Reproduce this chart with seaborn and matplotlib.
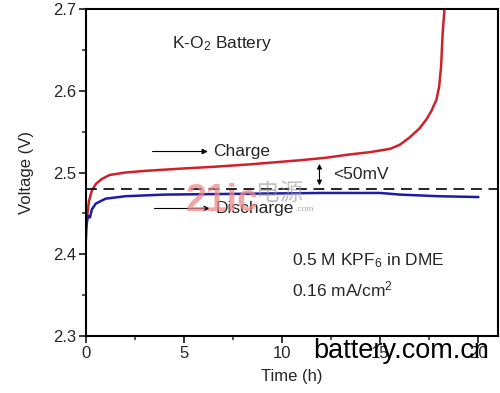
import numpy as np
import pandas as pd
import matplotlib
matplotlib.use('Agg')
import matplotlib.pyplot as plt
from matplotlib.ticker import MultipleLocator
import seaborn as sns

#%% data
charge_t = [0.0, 0.05, 0.15, 0.3, 0.5, 0.8, 1.2, 2, 3, 5, 6.5, 8.35, 10.9, 12.2,
            13.4, 14.5, 15.5, 16.0, 16.5, 17.0, 17.35, 17.6, 17.86, 18.0, 18.1,
            18.18, 18.27, 18.32]
charge_v = [2.418, 2.445, 2.465, 2.478, 2.486, 2.492, 2.497, 2.500, 2.502, 2.505,
            2.507, 2.510, 2.515, 2.518, 2.522, 2.525, 2.529, 2.534, 2.543, 2.554,
            2.565, 2.575, 2.589, 2.605, 2.630, 2.671, 2.699, 2.720]
discharge_t = [0.0, 0.1, 0.2, 0.3, 0.5, 1.0, 2, 4, 8, 12, 15, 16, 18, 20]
discharge_v = [2.432, 2.447, 2.445, 2.455, 2.462, 2.468, 2.471, 2.473, 2.474,
               2.475, 2.475, 2.473, 2.471, 2.470]
mid_v = 2.48

df = pd.concat([
    pd.DataFrame({'time': charge_t, 'voltage': charge_v, 'mode': 'Charge'}),
    pd.DataFrame({'time': discharge_t, 'voltage': discharge_v, 'mode': 'Discharge'}),
])

#%% plot
sns.set_style('ticks')
plt.rcParams['font.family'] = ['Liberation Sans', 'Noto Sans CJK SC', 'DejaVu Sans']
plt.rcParams['mathtext.fontset'] = 'custom'
plt.rcParams['mathtext.rm'] = 'Liberation Sans'
plt.rcParams['mathtext.default'] = 'regular'

fig = plt.figure(figsize=(5.0, 3.93), dpi=100)
ax = fig.add_axes([0.172, 0.145, 0.824, 0.832])

sns.lineplot(data=df, x='time', y='voltage', hue='mode', estimator=None,
             palette={'Charge': '#d0202a', 'Discharge': '#1c1ca6'},
             linewidth=1.8, legend=False, ax=ax)
ax.axhline(mid_v, color='black', linestyle=(0, (6.5, 4)), linewidth=1.2)

ax.set_xlim(0, 21)
ax.set_ylim(2.3, 2.7)
ax.xaxis.set_major_locator(MultipleLocator(5))
ax.xaxis.set_minor_locator(MultipleLocator(2.5))
ax.yaxis.set_major_locator(MultipleLocator(0.1))
ax.yaxis.set_minor_locator(MultipleLocator(0.05))
ax.tick_params(which='major', direction='out', length=5, width=1.3, labelsize=12, pad=2)
ax.tick_params(which='minor', direction='out', length=3, width=1.1)
for s in ax.spines.values():
    s.set_linewidth(1.5)
    s.set_color('black')
ax.set_xlabel('Time (h)', fontsize=12, labelpad=6)
ax.set_ylabel('Voltage (V)', fontsize=12, labelpad=14)

#%% annotations
fs = 12.5
ax.text(4.4, 2.658, 'K-O$_2$ Battery', fontsize=fs, va='center')
ax.annotate('', xy=(6.35, 2.5257), xytext=(3.25, 2.5257),
            arrowprops=dict(arrowstyle='-|>', color='black', lw=0.8, mutation_scale=8))
ax.text(6.5, 2.5257, 'Charge', fontsize=fs, va='center')
ax.annotate('', xy=(6.45, 2.456), xytext=(3.35, 2.456),
            arrowprops=dict(arrowstyle='-|>', color='black', lw=0.8, mutation_scale=8))
ax.text(6.6, 2.456, 'Discharge', fontsize=fs, va='center')
ax.annotate('', xy=(11.9, 2.481), xytext=(11.9, 2.514),
            arrowprops=dict(arrowstyle='<|-|>', color='black', lw=0.8, mutation_scale=7))
ax.text(12.6, 2.4976, '<50mV', fontsize=fs, va='center')
ax.text(10.5, 2.392, '0.5 M KPF$_6$ in DME', fontsize=fs, va='center')
ax.text(10.5, 2.357, '0.16 mA/cm$^2$', fontsize=fs, va='center')

# watermarks
fig.text(0.372, 0.462, '21ic', fontsize=27, fontweight='bold', color='#ee8888',
         alpha=0.75, family=['Liberation Sans Narrow', 'Liberation Sans'])
fig.text(0.512, 0.49, '电源', fontsize=17, color='#999999', alpha=0.6)
fig.text(0.59, 0.462, '.com', fontsize=6, color='#aaaaaa')
fig.text(0.626, 0.09, 'battery.com.cn', fontsize=19.5, color='black')

fig.savefig('out.png', dpi=100)
